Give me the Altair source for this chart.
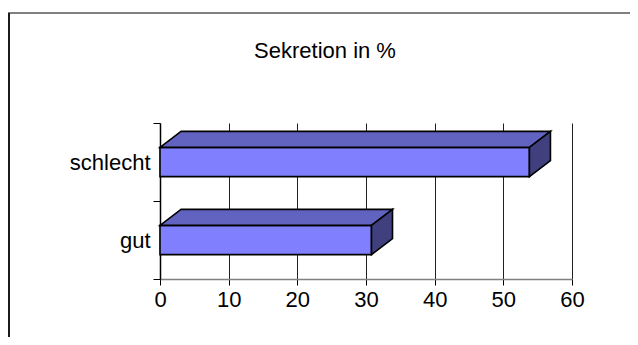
import altair as alt
import pandas as pd

# ---- data ----
categories = ["gut", "schlecht"]
values = [30.8, 53.8]
x_ticks = [0, 10, 20, 30, 40, 50, 60]
title_text = "Sekretion in %"

# ---- style / geometry constants (3-D look) ----
HALF = 0.188     # half thickness of the bar front (y units)
DX = 3.06        # depth offset in x units
DY = 0.205       # depth offset in y units

centers = [i + 0.5 for i in range(len(categories))]

front = pd.DataFrame({
    "cat": categories,
    "x0": [0.0] * len(categories),
    "v": values,
    "lo": [c - HALF for c in centers],
    "hi": [c + HALF for c in centers],
})

top_rows, side_rows = [], []
for cat, v, c in zip(categories, values, centers):
    top_rows.append({"cat": cat, "y": c + HALF, "xa": 0.0, "xb": v})
    top_rows.append({"cat": cat, "y": c + HALF + DY, "xa": DX, "xb": v + DX})
    side_rows.append({"cat": cat, "x": v, "ya": c - HALF, "yb": c + HALF})
    side_rows.append({"cat": cat, "x": v + DX, "ya": c - HALF + DY, "yb": c + HALF + DY})
top = pd.DataFrame(top_rows)
side = pd.DataFrame(side_rows)

label_expr = " : ".join(
    [f"abs(datum.value - {c}) < 0.01 ? '{n}'" for n, c in zip(categories, centers)]
) + " : ''"

xscale = alt.Scale(domain=[0, 60], nice=False, zero=True)
yscale = alt.Scale(domain=[0, len(categories)], nice=False, zero=True)

xaxis = alt.Axis(
    values=x_ticks, title=None, grid=True, gridColor="#202020", gridWidth=1,
    domainColor="#808080", domainWidth=1.5, tickColor="#000000", tickSize=6,
    labelFontSize=22, labelColor="#000000", labelPadding=4, labelFlush=False,
    labelOverlap=False,
)
yaxis = alt.Axis(
    values=[0, 0.5, 1, 1.5, 2], labelExpr=label_expr, title=None, grid=False,
    domainColor="#000000", domainWidth=1.5, tickColor="#000000", tickSize=7,
    tickOpacity={"condition": {"test": "datum.value % 1 != 0", "value": 0}, "value": 1},
    labelFontSize=22, labelColor="#000000", labelPadding=3,
    labelOverlap=False, labelBound=False, labelFlush=False,
)

front_layer = alt.Chart(front).mark_rect(
    fill="#8080FF", stroke="#000000", strokeWidth=1.6
).encode(
    x=alt.X("x0:Q", scale=xscale, axis=xaxis),
    x2="v:Q",
    y=alt.Y("lo:Q", scale=yscale, axis=yaxis),
    y2="hi:Q",
)

top_layer = alt.Chart(top).mark_area(
    orient="horizontal", fill="#6262C0", stroke="#000000", strokeWidth=1.6, opacity=1
).encode(
    y=alt.Y("y:Q", scale=yscale, axis=yaxis),
    x=alt.X("xa:Q", scale=xscale, axis=xaxis),
    x2="xb:Q",
    detail="cat:N",
)

side_layer = alt.Chart(side).mark_area(
    orient="vertical", fill="#40407F", stroke="#000000", strokeWidth=1.6, opacity=1
).encode(
    x=alt.X("x:Q", scale=xscale, axis=xaxis),
    y=alt.Y("ya:Q", scale=yscale, axis=yaxis),
    y2="yb:Q",
    detail="cat:N",
)

frame_df = pd.DataFrame({"k": [0]})
frame_top = alt.Chart(frame_df).mark_rule(color="#808080", strokeWidth=2).encode(
    x=alt.value(-152), x2=alt.value(700), y=alt.value(-110)
)
frame_left = alt.Chart(frame_df).mark_rule(color="#1a1a1a", strokeWidth=2).encode(
    x=alt.value(-151), y=alt.value(-110), y2=alt.value(400)
)

chart = alt.layer(
    front_layer, top_layer, side_layer, frame_top, frame_left
).properties(
    width=412, height=156,
    title=alt.TitleParams(title_text, fontSize=22, fontWeight="normal",
                          color="#000000", anchor="middle", dx=-41, dy=51,
                          offset=0),
    autosize=alt.AutoSizeParams(type="none"),
    padding={"left": 152, "top": 115, "right": 58, "bottom": 58},
).configure(
    font="Liberation Sans",
).configure_view(
    stroke=None,
)

chart.save("out.html", embed_options={"renderer": "svg", "actions": False})
